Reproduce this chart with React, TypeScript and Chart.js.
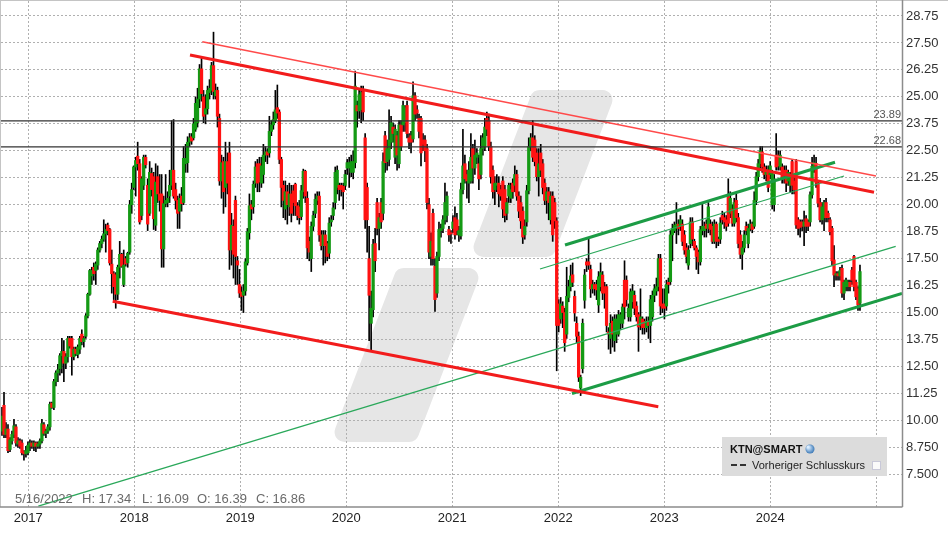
import React, { useEffect, useRef } from 'react';
import { Chart, registerables } from 'chart.js';

Chart.register(...registerables);

type OHLC = [number, number, number, number]; // open, high, low, close

// Weekly candles, Oct 2016 -> Nov 2024
const candles2016to2018: OHLC[] = [
  [9.5,10.6,9.3,10.2],[10.7,11.3,9.2,9.35],[9.35,9.9,9.2,9.6],[9.6,9.8,8.5,8.6],[8.65,9.2,8.55,9.1],
  [9.05,9.5,8.9,9.35],[9.35,10.05,9.2,9.75],[9.7,9.8,8.8,8.95],[8.9,9.2,8.75,9.05],[9.05,9.15,8.7,8.8],
  [8.95,9.1,8.4,8.5],[8.55,8.6,8.15,8.45],[8.45,8.8,8.3,8.6],[8.5,9.0,8.4,8.85],[8.85,9.1,8.6,8.95],
  [8.95,9.05,8.7,8.8],[8.8,9.05,8.6,8.95],[8.95,9.0,8.55,8.8],[8.8,9.0,8.7,8.9],[8.9,9.15,8.7,9.05],
  [9.05,10.05,8.95,9.85],[9.8,9.9,9.3,9.4],[9.4,9.6,9.2,9.5],[9.5,9.8,9.4,9.7],[9.7,10.85,9.55,10.75],
  [10.8,10.85,10.55,10.6],[10.6,11.9,10.5,11.8],[11.8,12.3,11.6,12.2],[12.2,12.6,11.8,12.35],[12.4,13.1,12.1,13.0],
  [13.0,13.8,12.2,13.2],[13.2,13.7,11.8,12.65],[12.65,13.1,12.4,12.95],[12.95,13.9,12.7,13.8],[13.8,13.9,13.35,13.45],
  [13.8,13.9,12.1,12.95],[12.95,13.4,12.8,13.3],[13.3,13.4,13.0,13.1],[13.05,13.5,12.9,13.4],[13.3,13.9,13.1,13.8],
  [14.0,14.2,13.5,13.65],[13.65,13.9,13.4,13.8],[13.9,14.95,13.8,14.85],[14.85,15.9,14.75,15.85],[15.85,17.0,15.8,16.95],
  [16.7,17.1,16.3,16.95],[17.1,17.3,16.5,16.8],[16.95,17.35,16.3,17.25],[17.2,18.0,17.0,17.9],[17.9,18.3,17.8,18.2],
  [18.2,18.55,18.0,18.4],[18.4,19.3,18.3,18.65],[18.65,19.1,17.8,18.85],[19.05,19.15,18.6,18.8],[18.85,18.9,17.2,17.3],
  [17.25,17.9,15.9,16.8],[16.8,16.9,15.6,16.2],[16.75,16.85,15.2,15.85],[15.85,17.2,15.6,17.1],[17.1,18.3,16.6,17.7],
  [17.7,17.75,17.1,17.15],[16.3,17.9,16.2,17.2],[17.5,17.6,17.15,17.25],[17.3,17.8,17.1,17.75],[17.8,20.2,17.7,20.0],
  [20.0,21.0,19.6,20.7],[20.8,21.8,20.7,21.75],[21.75,22.2,20.4,22.05],[22.25,22.9,21.6,21.9],[21.9,22.1,19.1,19.2],
  [19.5,21.3,19.3,21.2],[20.9,22.3,20.7,22.2],[22.2,22.3,21.7,21.85],[20.9,21.2,18.8,19.1],[19.6,22.0,19.5,21.5],
];

const candles2018to2019: OHLC[] = [
  [21.45,21.7,20.4,20.7],[21.3,21.5,18.85,19.35],[19.05,21.9,18.8,21.05],[21.3,21.8,20.1,20.5],[20.5,21.4,19.7,20.2],
  [20.5,21.4,17.1,17.95],[17.95,20.4,17.1,20.05],[20.05,21.4,19.9,20.2],[20.1,20.6,19.9,20.3],[20.4,21.6,20.1,20.9],
  [20.9,23.9,20.7,21.6],[21.6,23.95,20.3,20.4],[20.7,21.0,19.8,20.2],[20.2,20.4,18.9,19.6],[19.7,20.5,18.9,20.3],
  [20.4,20.8,19.7,20.05],[20.1,22.7,20.0,22.15],[21.9,22.8,21.5,22.15],[21.95,23.15,21.5,22.9],[22.9,23.3,22.7,23.1],
  [23.15,23.3,22.8,22.95],[23.1,24.0,23.0,23.75],[23.5,25.0,23.4,24.7],[23.8,25.4,23.6,24.9],[24.9,26.5,24.5,26.3],
  [26.3,26.8,24.8,25.15],[25.0,25.3,23.8,24.1],[24.2,25.1,23.75,24.45],[24.45,25.5,24.2,25.3],[25.2,25.8,24.9,25.4],
  [25.3,26.6,25.1,26.45],[26.45,28.0,24.9,25.25],[25.05,25.6,24.9,25.3],[25.3,25.45,23.6,24.1],[24.0,24.2,20.9,21.1],
  [21.1,22.3,20.3,21.95],[22.0,22.2,19.6,20.6],[20.8,22.9,19.9,22.0],[22.0,22.4,20.5,21.0],[22.4,22.9,17.0,17.9],
  [17.9,19.6,17.2,19.05],[19.0,19.3,16.6,17.7],[20.2,20.4,16.3,17.6],[17.4,17.6,16.3,17.2],[16.3,17.0,15.7,15.9],
  [15.95,16.2,15.1,15.75],[15.8,16.3,15.0,16.0],[16.0,17.5,15.8,17.35],[17.3,18.9,17.2,18.75],[18.7,20.5,18.4,19.95],
  [20.0,20.2,19.3,19.8],[19.9,21.1,19.6,20.95],[21.0,22.0,20.8,21.75],[21.9,22.1,20.6,21.0],[21.9,22.2,20.6,21.05],
  [21.0,22.2,20.8,21.8],[21.4,22.8,21.0,22.3],[22.3,22.7,22.0,22.45],[22.45,22.6,21.9,22.3],[22.4,24.1,22.2,23.4],
  [23.4,23.9,23.2,23.7],[23.7,24.3,23.5,23.95],[23.9,25.3,23.8,24.4],[24.5,25.55,24.0,24.25],[24.3,24.4,21.9,22.1],
  [22.1,22.2,19.9,20.8],[20.9,21.1,19.4,20.2],[19.8,21.1,19.3,20.6],[20.6,20.9,19.1,20.0],[19.9,21.0,19.5,20.5],
  [20.5,20.9,19.2,19.6],
];

const candles2019to2020: OHLC[] = [
  [20.64,20.9,19.5,20.1],[20.95,21.0,19.5,19.95],[19.95,20.1,19.3,19.5],[19.9,20.2,19.1,19.4],[19.45,20.9,19.3,20.65],
  [20.6,21.65,20.3,21.55],[21.55,21.6,20.1,20.4],[20.3,20.6,17.5,18.0],[18.3,18.5,17.4,17.8],[17.5,19.2,16.9,19.0],
  [19.0,19.7,18.8,19.5],[19.6,20.5,19.4,20.25],[20.2,20.6,20.0,20.4],[20.4,20.6,18.3,18.6],[18.6,18.8,17.9,18.1],
  [18.1,18.8,17.2,18.6],[18.6,18.8,17.3,18.1],[18.2,18.3,17.4,17.6],[17.75,19.4,17.5,19.15],[19.2,19.5,19.0,19.3],
  [19.5,20.1,19.3,19.85],[20.1,21.75,19.8,21.5],[20.8,21.8,20.5,21.6],[20.9,21.0,20.2,20.7],[20.9,21.0,20.4,20.7],
  [20.85,21.0,19.8,20.6],[20.9,21.6,20.7,21.4],[21.7,22.1,21.4,21.95],[21.7,22.2,20.8,21.95],[21.5,22.3,21.3,22.0],
  [21.5,22.5,21.2,22.0],[21.95,26.2,21.7,25.5],[24.6,24.8,23.6,24.35],[24.35,25.4,24.0,25.1],[24.4,25.5,23.8,25.2],
  [25.3,25.5,23.9,24.3],[23.1,23.3,18.9,19.3],[20.8,21.0,17.8,19.3],[17.5,19.0,13.7,15.8],[14.5,16.0,13.2,15.2],
  [15.13,18.4,14.8,18.16],[18.2,18.9,16.9,17.4],[20.1,20.3,18.6,18.9],[18.9,19.6,17.9,19.4],[20.1,20.3,18.9,19.2],
  [19.6,22.4,19.3,22.0],[23.2,23.4,21.5,21.95],[22.0,23.0,21.6,22.6],[22.1,24.4,21.8,23.0],[22.9,24.1,22.6,23.8],
  [23.6,23.8,22.9,23.3],[22.2,23.7,21.9,23.5],[23.2,23.4,21.6,22.3],[21.9,23.9,21.7,23.7],[23.7,23.9,22.5,22.7],
  [23.7,24.8,23.4,24.6],[23.8,24.6,23.4,24.5],[24.6,24.8,23.1,23.3],[23.1,23.3,22.6,22.9],[23.2,23.4,22.4,22.9],
  [23.05,25.7,22.9,25.05],[25.05,25.2,23.9,24.2],[24.4,24.6,24.0,24.25],[24.0,24.2,23.1,23.4],[24.0,24.1,21.8,22.4],
  [23.0,23.3,22.5,22.8],[23.0,23.2,22.0,22.5],[22.6,22.8,19.8,20.1],[20.0,20.3,17.5,17.8],[17.6,18.7,17.2,18.3],
  [19.6,19.8,17.2,17.5],[17.15,17.5,15.05,15.6],[15.9,17.8,15.7,17.6],
];

const candles2020to2022: OHLC[] = [
  [17.6,19.2,17.4,18.85],[18.8,19.1,18.5,18.9],[18.9,19.5,18.7,19.3],[19.3,21.0,19.1,20.1],[19.5,20.6,19.2,20.4],
  [18.85,19.0,18.3,18.6],[18.7,18.8,18.2,18.65],[18.9,19.5,18.7,19.2],[19.4,19.9,18.4,18.6],[19.3,19.6,18.6,18.8],
  [18.6,19.0,18.3,18.8],[18.55,21.0,18.4,20.7],[20.7,23.5,20.5,21.8],[21.9,22.3,21.0,21.2],[21.4,21.6,20.3,21.1],
  [21.0,22.0,20.1,21.6],[21.1,23.3,21.0,22.2],[22.6,22.8,21.0,21.7],[21.7,23.0,21.4,22.3],[22.2,22.6,21.9,22.4],
  [21.9,22.3,20.7,21.2],[21.4,23.2,21.2,22.6],[22.6,23.3,22.3,23.1],[22.7,24.0,22.5,23.6],[24.0,24.3,23.2,23.5],
  [23.9,24.2,22.5,22.7],[22.7,22.9,21.0,21.3],[21.6,21.8,20.3,20.6],[20.7,21.3,20.0,21.0],[20.9,21.4,20.6,21.0],
  [21.0,21.3,19.9,20.5],[20.7,20.9,20.2,20.4],[21.1,21.3,19.4,19.8],[20.7,20.9,19.2,19.5],[19.6,20.3,19.3,20.1],
  [20.4,21.0,20.1,20.9],[20.3,21.0,20.1,20.7],[21.0,21.2,20.3,20.6],[20.9,21.8,20.6,21.4],[21.4,21.6,20.2,20.4],
  [20.4,20.6,19.4,19.7],[20.1,20.4,18.9,19.25],[19.7,19.9,18.2,18.5],[18.6,19.3,18.4,19.0],[19.2,20.9,19.0,20.65],
  [20.65,23.1,20.5,22.7],[22.7,23.3,22.5,23.1],[23.1,23.9,22.0,22.2],[23.0,23.2,21.8,22.0],[22.4,22.6,21.1,21.3],
  [21.3,22.6,20.4,21.9],[22.4,22.8,21.3,21.6],[21.9,22.1,20.5,20.8],[21.0,21.2,20.0,20.2],[20.2,20.8,19.6,20.6],
  [20.6,20.8,19.3,20.1],[19.3,20.6,19.1,20.4],[20.4,20.6,18.3,18.6],[20.1,20.3,18.9,19.25],[19.25,19.4,12.3,14.4],
  [15.4,15.6,14.1,14.4],[14.7,15.7,14.5,15.4],[15.3,15.5,14.3,15.0],[15.0,15.2,13.2,13.6],[14.0,17.1,13.8,15.75],
  [15.7,16.5,15.5,16.2],[16.2,17.2,16.0,16.7],[16.75,17.3,16.2,16.4],[15.75,16.0,14.6,14.98],[14.5,14.8,13.6,13.9],
  [13.9,14.1,11.8,12.0],[11.5,12.1,11.15,12.0],[12.4,14.7,12.2,14.5],
];

const candles2022to2023: OHLC[] = [
  [15.57,17.0,15.2,16.74],[17.35,17.5,16.9,17.2],[17.35,18.45,17.0,17.2],[17.0,17.2,15.7,16.1],[16.1,16.5,15.9,16.3],
  [16.3,16.4,15.8,16.1],[16.3,16.5,15.6,16.05],[15.35,16.9,15.0,16.66],[16.2,17.3,16.0,16.85],[16.74,16.9,15.6,15.9],
  [16.2,16.4,15.2,15.9],[16.2,16.3,14.1,14.4],[14.1,14.3,13.3,14.0],[13.8,14.9,13.1,14.5],[14.6,14.8,13.4,14.0],
  [13.7,14.9,13.2,14.7],[14.0,14.9,13.6,14.7],[14.0,15.1,13.9,14.9],[14.5,15.0,14.2,14.9],[14.5,15.4,14.3,15.26],
  [16.5,17.4,14.7,15.26],[16.5,16.7,15.3,15.6],[14.8,15.4,14.6,15.2],[14.8,16.1,14.6,15.96],[15.5,16.3,15.2,16.0],
  [15.8,16.0,14.9,15.2],[15.3,15.5,14.6,14.8],[14.9,15.0,13.2,14.33],[14.4,16.1,14.2,14.8],[14.7,14.8,14.0,14.3],
  [14.6,14.7,14.0,14.3],[14.3,14.8,14.1,14.6],[14.6,14.8,13.8,14.4],[14.4,15.8,13.6,15.6],[14.8,16.0,14.6,15.8],
  [15.8,16.3,15.5,16.1],[16.0,16.6,15.8,16.2],[16.2,17.7,16.0,17.5],[17.5,17.7,14.9,15.3],[15.4,16.1,15.0,15.2],
  [15.4,16.1,14.7,15.2],[15.3,16.5,15.1,16.3],[16.4,16.6,15.9,16.3],[16.43,18.8,16.3,18.6],[18.6,19.1,17.4,18.9],
  [18.8,19.2,18.7,19.05],[18.9,20.1,18.2,19.1],[19.1,19.3,18.6,18.9],[19.0,19.5,18.8,19.3],[19.1,19.3,18.1,18.3],
  [18.6,18.8,17.7,17.9],[18.0,18.2,17.3,17.6],[17.2,18.1,17.0,17.9],[18.2,19.4,18.0,19.2],[19.2,19.4,18.1,18.4],
  [18.3,18.4,17.9,18.0],[18.0,18.1,17.0,17.6],[17.8,17.9,16.8,17.35],[17.35,19.0,17.2,18.84],[18.8,20.1,18.6,19.0],
  [18.8,19.2,18.5,19.0],[19.1,19.3,18.5,18.9],[18.9,20.1,18.7,19.9],[19.1,19.3,18.6,18.85],
];

const candles2023to2024: OHLC[] = [
  [19.0,19.2,18.2,18.3],[18.3,19.3,18.2,19.1],[19.1,19.2,18.0,18.3],[18.4,18.5,18.1,18.3],[18.4,19.4,18.2,19.15],
  [19.5,19.7,19.1,19.3],[19.4,19.6,18.9,19.2],[19.3,19.5,18.8,19.0],[20.46,21.2,19.0,19.14],[19.6,20.6,19.4,20.3],
  [19.8,20.0,19.0,19.14],[19.14,20.3,19.0,20.1],[20.2,20.5,19.2,19.4],[19.4,19.6,18.0,18.2],[18.6,18.8,17.5,17.7],
  [17.7,18.3,17.0,18.0],[18.0,18.8,17.8,18.6],[19.0,19.2,18.6,18.8],[18.2,19.1,18.0,18.9],[18.9,19.3,18.8,19.1],
  [19.1,19.2,18.7,18.85],[19.0,20.6,18.9,20.2],[20.2,21.5,20.0,21.3],[21.3,22.1,21.1,21.9],[21.9,22.7,21.7,22.5],
  [22.45,22.7,21.5,21.75],[21.75,21.9,21.2,21.4],[21.4,21.8,21.1,21.5],[21.6,21.8,20.6,20.8],[21.4,22.0,21.2,21.8],
  [20.0,21.6,19.8,21.45],[20.0,21.4,19.7,21.2],[22.3,23.3,21.6,21.75],[22.3,22.5,21.6,21.8],[21.75,22.5,21.6,22.3],
  [21.75,21.9,21.0,21.25],[21.6,21.8,21.0,21.35],[21.6,21.8,20.6,21.0],[21.1,21.6,20.9,21.5],[20.9,21.5,20.6,21.3],
  [22.0,22.1,20.5,20.9],[21.1,21.3,20.5,20.7],[22.0,22.1,18.9,19.06],[19.3,19.4,18.6,18.9],[19.2,19.3,18.5,18.95],
  [19.2,19.3,18.8,19.0],[19.0,19.7,18.1,19.2],[19.35,19.5,18.7,19.0],[19.2,19.3,18.8,19.0],[19.2,20.6,19.0,20.46],
  [20.46,22.2,20.3,21.78],[21.7,22.3,21.5,21.95],[21.92,22.2,20.8,21.0],[21.0,21.1,19.9,20.07],[20.1,20.3,19.2,19.3],
  [19.3,20.1,19.1,19.9],[19.4,20.2,18.8,20.1],[20.1,20.3,19.2,19.4],[19.6,19.7,19.2,19.4],[19.3,19.4,18.6,18.75],
  [18.9,19.0,17.2,17.4],[17.44,18.1,16.2,16.74],[16.74,16.9,16.5,16.8],[16.8,16.9,16.5,16.7],[16.7,17.1,16.5,16.95],
  [17.05,17.2,15.7,15.9],[15.9,16.5,15.6,16.4],[16.2,16.6,16.0,16.5],[16.2,16.5,16.0,16.4],[16.4,16.5,16.0,16.2],
  [16.97,17.1,16.3,16.5],[17.6,17.65,16.0,16.2],[16.4,16.5,15.6,15.73],[16.1,16.2,15.1,15.35],[15.43,17.2,15.1,16.9],
];

// time positions (decimal years) of first and last weekly candle
const firstCandleYear = 2016.752;
const lastCandleYear = 2024.846;

// axis ranges
const xMinYear = 2016.7425;
const xMaxYear = 2025.2425;
const yMinPrice = 5.984;
const yMaxPrice = 29.445;
const lastLabelledYear = 2024;
const lowestLabelledPrice = 7.5;

// trend lines [start, end] as {x: year, y: price}
const resistanceMain = [{ x: 2018.5255, y: 26.94 }, { x: 2024.9784, y: 20.575 }];
const resistanceOuter = [{ x: 2018.6415, y: 27.558 }, { x: 2024.9972, y: 21.331 }];
const supportFalling = [{ x: 2017.7963, y: 15.521 }, { x: 2022.9434, y: 10.634 }];
const channelLower = [{ x: 2022.1293, y: 11.246 }, { x: 2025.2425, y: 15.883 }];
const channelUpper = [{ x: 2022.0632, y: 18.131 }, { x: 2024.6104, y: 21.966 }];
const channelMiddle = [{ x: 2021.8274, y: 17.019 }, { x: 2024.6953, y: 21.331 }];
const longSupport = [{ x: 2017.0944, y: 6.03 }, { x: 2025.183, y: 18.071 }];

// horizontal levels
const levelPrices = [23.89, 22.68];
const levelLabels = ['23.89', '22.68'];

// status line
const infoDate = '5/16/2022';
const infoParts = ['H: 17.34', 'L: 16.09', 'O: 16.39', 'C: 16.86'];
const legendTitle = 'KTN@SMART';
const legendItem = 'Vorheriger Schlusskurs';

const GREEN = '#149a14';
const RED = '#ff1212';
const FONT = '"Liberation Sans", Arial, sans-serif';

function roundedPoly(ctx: CanvasRenderingContext2D, pts: number[][], r: number) {
  const n = pts.length;
  ctx.beginPath();
  for (let i = 0; i < n; i++) {
    const p0 = pts[(i - 1 + n) % n];
    const p1 = pts[i];
    const p2 = pts[(i + 1) % n];
    if (i === 0) ctx.moveTo((p0[0] + p1[0]) / 2, (p0[1] + p1[1]) / 2);
    ctx.arcTo(p1[0], p1[1], (p1[0] + p2[0]) / 2, (p1[1] + p2[1]) / 2, r);
  }
  ctx.closePath();
}

const watermarkPlugin = {
  id: 'watermark',
  beforeDraw(chart: any) {
    const ctx = chart.ctx as CanvasRenderingContext2D;
    ctx.save();
    ctx.fillStyle = '#e6e6e6';
    roundedPoly(ctx, [[533, 90], [617, 90], [553, 257], [469, 257]], 10);
    ctx.fill();
    roundedPoly(ctx, [[397, 268], [483, 268], [416, 442], [330, 442]], 10);
    ctx.fill();
    ctx.restore();
  },
};

const overlayPlugin = {
  id: 'overlay',
  afterDraw(chart: any) {
    const ctx = chart.ctx as CanvasRenderingContext2D;
    const { right, top, bottom } = chart.chartArea;
    const yScale = chart.scales.y;
    ctx.save();
    // frame
    ctx.lineWidth = 1;
    ctx.strokeStyle = '#c4c4c4';
    ctx.beginPath();
    ctx.moveTo(0, 0.5);
    ctx.lineTo(chart.width, 0.5);
    ctx.moveTo(0.5, 0);
    ctx.lineTo(0.5, bottom);
    ctx.stroke();
    ctx.strokeStyle = '#8c8c8c';
    ctx.lineWidth = 1.5;
    ctx.beginPath();
    ctx.moveTo(0, bottom);
    ctx.lineTo(right + 0.5, bottom);
    ctx.moveTo(right + 0.5, top - 1);
    ctx.lineTo(right + 0.5, bottom);
    ctx.stroke();

    // level labels
    ctx.fillStyle = '#555';
    ctx.font = `11px ${FONT}`;
    ctx.textAlign = 'right';
    ctx.textBaseline = 'alphabetic';
    levelPrices.forEach((p, i) => {
      const y = yScale.getPixelForValue(p);
      ctx.fillText(levelLabels[i], right - 1, y - 3);
    });

    // status line
    ctx.fillStyle = '#6a6a6a';
    ctx.font = `13px ${FONT}`;
    ctx.textAlign = 'left';
    const infoX = [15, 82, 142, 197, 256];
    const texts = [infoDate, ...infoParts];
    texts.forEach((t, i) => ctx.fillText(t, infoX[i], bottom - 4));

    // legend box
    ctx.fillStyle = '#dcdcdc';
    ctx.fillRect(722, 437, 165, 39);
    ctx.fillStyle = '#111';
    ctx.font = `bold 11px ${FONT}`;
    ctx.fillText(legendTitle, 730, 453);
    const g = ctx.createRadialGradient(808, 447, 1, 810, 449, 5);
    g.addColorStop(0, '#d8ecff');
    g.addColorStop(1, '#2f6fb0');
    ctx.fillStyle = g;
    ctx.beginPath();
    ctx.arc(810, 449, 4.5, 0, Math.PI * 2);
    ctx.fill();
    ctx.strokeStyle = '#333';
    ctx.lineWidth = 2;
    ctx.setLineDash([6, 3]);
    ctx.beginPath();
    ctx.moveTo(731, 465);
    ctx.lineTo(747, 465);
    ctx.stroke();
    ctx.setLineDash([]);
    ctx.fillStyle = '#222';
    ctx.font = `11px ${FONT}`;
    ctx.fillText(legendItem, 752, 469);
    ctx.fillStyle = '#fafafa';
    ctx.fillRect(873, 462, 7, 7);
    ctx.strokeStyle = '#c8c8d8';
    ctx.lineWidth = 1;
    ctx.strokeRect(872.5, 461.5, 8, 8);
    ctx.restore();
  },
};

export default function App() {
  const ref = useRef<HTMLCanvasElement | null>(null);

  useEffect(() => {
    if (!ref.current) return;
    const all: OHLC[] = [
      ...candles2016to2018,
      ...candles2018to2019,
      ...candles2019to2020,
      ...candles2020to2022,
      ...candles2022to2023,
      ...candles2023to2024,
    ];
    const n = all.length;
    const step = (lastCandleYear - firstCandleYear) / (n - 1);
    const xs = all.map((_, i) => firstCandleYear + i * step);
    const bodies = all.map((c, i) => ({ x: xs[i], y: [c[0], c[3]] }));
    const wicks = all.map((c, i) => ({ x: xs[i], y: [c[2], c[1]] }));
    const bodyColors = all.map((c) => (c[3] >= c[0] ? GREEN : RED));

    const line = (data: any[], color: string, width: number) => ({
      type: 'line' as const,
      data,
      borderColor: color,
      borderWidth: width,
      pointRadius: 0,
      fill: false,
      order: 0,
      tension: 0,
    });

    const levelLines = levelPrices.map((p) =>
      line([{ x: xMinYear, y: p }, { x: xMaxYear, y: p }], '#333333', 1.2)
    );

    const chart = new Chart(ref.current, {
      type: 'bar',
      data: {
        datasets: [
          ...levelLines,
          line(resistanceMain, '#f21c1c', 3),
          line(resistanceOuter, '#ff4a4a', 1.4),
          line(supportFalling, '#f21c1c', 3),
          line(channelLower, '#1c9c45', 3),
          line(channelUpper, '#1c9c45', 3),
          line(channelMiddle, '#2aa85a', 1.3),
          line(longSupport, '#2aa85a', 1.3),
          {
            type: 'bar',
            data: bodies as any,
            backgroundColor: bodyColors,
            borderWidth: 0,
            barThickness: 2.6,
            grouped: false,
            minBarLength: 1,
            order: 1,
          } as any,
          {
            type: 'bar',
            data: wicks as any,
            backgroundColor: '#000000',
            borderWidth: 0,
            barThickness: 1,
            grouped: false,
            order: 2,
          } as any,
        ],
      },
      options: {
        responsive: false,
        animation: false,
        devicePixelRatio: 1,
        events: [],
        layout: { padding: { top: 1, left: 1, right: 0, bottom: 0 } },
        plugins: { legend: { display: false }, tooltip: { enabled: false } },
        scales: {
          x: {
            type: 'linear',
            min: xMinYear,
            max: xMaxYear,
            offset: false,
            grid: { color: '#b0b0b0', drawTicks: false, offset: false, lineWidth: 1 },
            border: { display: false, dash: [2, 2] },
            ticks: {
              stepSize: 1,
              includeBounds: false,
              autoSkip: false,
              maxRotation: 0,
              padding: 4,
              color: '#222',
              font: { family: FONT, size: 13 },
              callback: (v: any) => (Number(v) <= lastLabelledYear ? String(v) : ''),
            },
            afterFit: (s: any) => {
              s.height = 27;
              s.paddingLeft = 0;
              s.paddingRight = 0;
            },
          },
          y: {
            type: 'linear',
            position: 'right',
            min: yMinPrice,
            max: yMaxPrice,
            beginAtZero: false,
            grid: { color: '#b0b0b0', drawTicks: false, lineWidth: 1 },
            border: { display: false, dash: [2, 2] },
            ticks: {
              stepSize: 1.25,
              includeBounds: false,
              padding: 4,
              color: '#333',
              font: { family: FONT, size: 13 },
              callback: (v: any) => {
                const num = Number(v);
                if (num < lowestLabelledPrice - 0.001) return null;
                return num >= 10 ? num.toFixed(2) : num.toFixed(3);
              },
            },
            afterFit: (s: any) => {
              s.width = 46;
              s.paddingTop = 0;
              s.paddingBottom = 0;
            },
          },
        },
      } as any,
      plugins: [watermarkPlugin, overlayPlugin],
    });
    return () => chart.destroy();
  }, []);

  return (
    <div style={{ position: 'fixed', left: 0, top: 0, width: 948, height: 534, background: '#fff' }}>
      <canvas ref={ref} width={948} height={534} style={{ display: 'block' }} />
    </div>
  );
}
